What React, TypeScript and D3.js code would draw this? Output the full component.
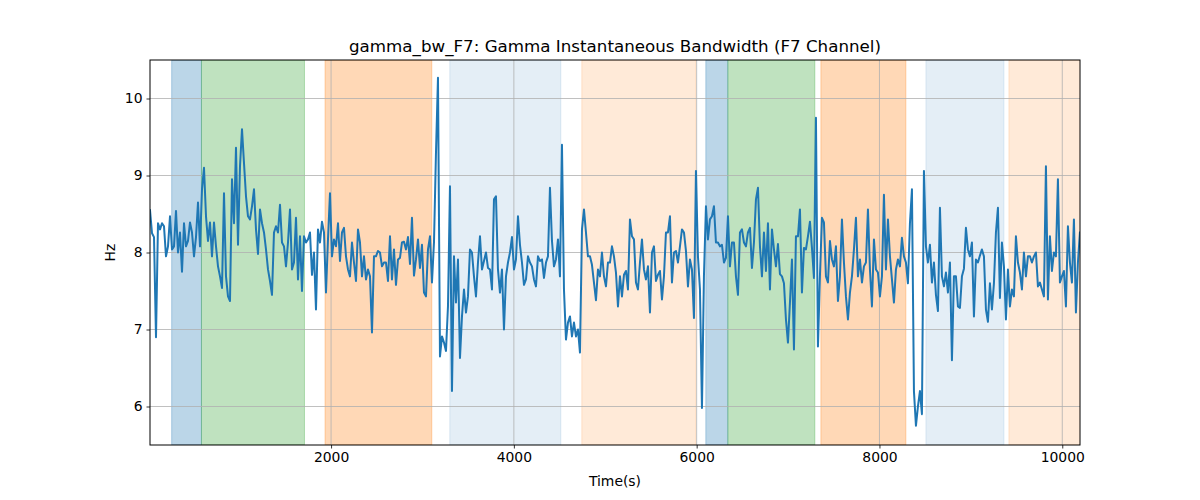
import React, { useEffect, useRef } from 'react';
import * as d3 from 'd3';

const TITLE = 'gamma_bw_F7: Gamma Instantaneous Bandwidth (F7 Channel)';
const X_LABEL = 'Time(s)';
const Y_LABEL = 'Hz';

// sample grid of the recording (seconds)
const T_START = 19;
const T_STEP = 21.88;

// instantaneous bandwidth (Hz) in consecutive chunks
const seg1 = [
  8.55, 8.25, 8.2, 6.9, 8.38, 8.3, 8.38, 8.34, 7.95, 8.08,
  8.47, 8.04, 8.08, 8.54, 8.0, 8.26, 7.75, 8.38, 8.08, 8.15,
  8.39, 8.26, 7.95, 8.2, 8.65, 8.08, 8.82, 9.1, 8.47, 8.15,
  8.39, 7.95, 8.39, 8.08, 7.82, 7.69, 7.54, 8.77, 7.69, 7.43,
  7.37, 8.95, 8.38, 9.36, 8.1, 9.12, 9.6, 9.16, 8.73, 8.47,
  8.43, 8.6, 8.82, 8.3, 7.98, 8.56, 8.38, 8.26, 8.04, 7.78
];
const seg2 = [
  7.63, 7.45, 8.26, 8.34, 8.26, 8.62, 8.13, 8.08, 7.82, 8.13,
  8.56, 7.78, 7.87, 8.45, 7.65, 8.21, 7.5, 8.21, 8.13, 8.17,
  8.26, 7.71, 8.0, 7.26, 8.3, 8.13, 8.4, 8.26, 7.48, 8.17,
  8.77, 7.95, 8.17, 8.08, 8.38, 7.89, 8.26, 8.32, 7.95, 7.78,
  7.69, 8.13, 7.87, 7.63, 8.3, 8.13, 7.69, 7.95, 7.65, 7.78,
  7.69, 6.96, 7.95, 7.95, 8.02, 8.0, 7.82, 7.87, 7.87, 7.63
];
const seg3 = [
  8.21, 7.65, 8.04, 7.58, 7.91, 7.93, 8.13, 8.14, 8.04, 8.2,
  7.85, 8.45, 7.7, 7.91, 8.17, 7.8, 8.1, 7.48, 7.43, 8.04,
  8.21, 7.61, 8.13, 9.3, 10.27, 6.65, 6.91, 6.83, 6.72, 7.3,
  8.86, 6.2, 7.95, 7.35, 7.91, 6.63, 7.17, 7.52, 7.22, 7.43,
  8.04, 8.0, 7.69, 7.43, 7.87, 8.21, 7.78, 7.89, 8.0, 7.8,
  7.78, 7.52, 8.69, 8.73, 7.78, 7.48, 7.78, 7.0, 7.69, 7.87
];
const seg4 = [
  8.0, 8.2, 7.78, 7.91, 8.47, 8.1, 7.87, 7.58, 7.65, 7.95,
  7.87, 7.82, 7.65, 7.56, 7.95, 7.89, 7.91, 7.67, 7.87, 7.95,
  8.84, 8.15, 7.82, 7.91, 8.17, 7.69, 9.4, 7.52, 6.87, 7.09,
  7.17, 6.91, 7.09, 6.91, 7.0, 6.7, 8.3, 8.56, 8.26, 7.95,
  7.95, 7.84, 7.61, 7.38, 7.78, 7.69, 8.0, 7.69, 7.56, 7.87,
  7.87, 8.08, 7.95, 7.74, 7.3, 7.69, 7.43, 7.71, 7.76, 7.52
];
const seg5 = [
  8.43, 8.21, 8.17, 7.61, 7.52, 7.87, 8.17, 7.78, 7.65, 7.82,
  7.22, 8.0, 8.08, 7.63, 7.71, 7.76, 7.39, 7.69, 8.26, 8.26,
  8.47, 7.61, 8.0, 8.02, 7.87, 8.08, 8.3, 8.26, 8.02, 7.56,
  7.91, 7.78, 7.15, 9.06, 7.95, 7.52, 5.98, 7.7, 8.6, 8.17,
  8.43, 8.47, 8.6, 8.13, 8.13, 8.08, 8.1, 7.87, 7.93, 8.47,
  7.82, 8.13, 8.13, 7.69, 7.45, 8.26, 8.3, 8.13, 8.08, 8.26
];
const seg6 = [
  8.32, 7.8, 8.13, 8.69, 8.84, 8.08, 7.69, 8.26, 7.76, 8.38,
  7.52, 8.3, 8.04, 7.82, 8.11, 7.72, 7.69, 7.6, 7.13, 6.83,
  7.35, 7.91, 6.74, 8.21, 8.21, 8.56, 7.48, 8.06, 8.04, 8.21,
  8.4, 8.06, 7.67, 9.75, 6.78, 7.7, 8.45, 8.39, 7.69, 7.61,
  8.15, 7.91, 7.82, 8.08, 7.37, 7.69, 8.43, 7.87, 7.43, 7.13,
  7.48, 7.69, 8.04, 8.45, 7.69, 7.91, 7.61, 7.82, 7.87, 8.56
];
const seg7 = [
  7.78, 7.3, 8.17, 7.78, 7.74, 7.43, 7.69, 8.75, 7.78, 8.43,
  7.95, 7.65, 7.35, 7.78, 7.91, 7.82, 8.19, 7.95, 7.87, 7.6,
  8.38, 8.82, 6.2, 5.75, 6.0, 6.2, 5.9, 9.06, 8.08, 7.87,
  8.1, 7.61, 7.87, 7.45, 7.24, 8.58, 7.69, 7.56, 7.74, 7.48,
  7.87, 6.6, 7.69, 7.69, 7.3, 7.28, 7.69, 7.79, 8.32, 8.04,
  7.95, 8.13, 7.17, 7.91, 7.87, 7.96, 8.04, 7.95, 7.26, 7.1
];
const seg8 = [
  7.6, 7.26, 7.6, 8.26, 8.58, 7.41, 8.13, 7.82, 7.13, 7.78,
  7.3, 7.52, 7.43, 8.21, 7.87, 7.74, 7.52, 8.0, 7.69, 7.95,
  7.95, 7.87, 7.95, 8.0, 7.56, 7.61, 7.52, 7.43, 9.12, 7.39,
  8.21, 7.76, 8.0, 7.95, 8.95, 7.61, 7.69, 7.76, 7.3, 8.34,
  7.87, 7.61, 8.43, 7.22, 7.87, 8.26
];
const values = [...seg1, ...seg2, ...seg3, ...seg4, ...seg5, ...seg6, ...seg7, ...seg8];

// shaded state intervals (start s, end s, colour, alpha)
const spanStarts = [256, 582, 1934, 3299, 4743, 6100, 6341, 7359, 8508, 9416];
const spanEnds = [582, 1709, 3102, 4514, 5991, 6341, 7293, 8289, 9362, 10300];
const spanColors = ['#1f77b4', '#2ca02c', '#ff7f0e', '#1f77b4', '#ff7f0e', '#1f77b4', '#2ca02c', '#ff7f0e', '#1f77b4', '#ff7f0e'];
const spanAlphas = [0.3, 0.3, 0.3, 0.12, 0.16, 0.3, 0.3, 0.3, 0.12, 0.16];

const xTicks = [2000, 4000, 6000, 8000, 10000];
const yTicks = [6, 7, 8, 9, 10];
const X_DOMAIN = [19, 10194];
const Y_DOMAIN = [5.5, 10.5];

const WIDTH = 1200;
const HEIGHT = 500;
const margin = { top: 60, right: 120, bottom: 55, left: 150 };
const FONT = 'DejaVu Sans, sans-serif';

const App: React.FC = () => {
  const svgRef = useRef<SVGSVGElement>(null);

  useEffect(() => {
    if (!svgRef.current) return;
    const svg = d3.select(svgRef.current);
    svg.selectAll('*').remove();

    const innerW = WIDTH - margin.left - margin.right;
    const innerH = HEIGHT - margin.top - margin.bottom;

    const x = d3.scaleLinear().domain(X_DOMAIN).range([0, innerW]);
    const y = d3.scaleLinear().domain(Y_DOMAIN).range([innerH, 0]);

    svg.append('rect').attr('width', WIDTH).attr('height', HEIGHT).attr('fill', '#ffffff');

    const defs = svg.append('defs');
    defs.append('clipPath').attr('id', 'plot-clip')
      .append('rect').attr('width', innerW).attr('height', innerH);

    const g = svg.append('g').attr('transform', `translate(${margin.left},${margin.top})`);
    const plot = g.append('g').attr('clip-path', 'url(#plot-clip)');

    spanStarts.forEach((start, i) => {
      const x0 = x(start);
      const x1 = x(spanEnds[i]);
      plot.append('rect')
        .attr('x', x0)
        .attr('y', 0)
        .attr('width', x1 - x0)
        .attr('height', innerH)
        .attr('fill', spanColors[i])
        .attr('fill-opacity', spanAlphas[i])
        .attr('stroke', spanColors[i])
        .attr('stroke-opacity', spanAlphas[i])
        .attr('stroke-width', 1);
    });

    // grid
    xTicks.forEach(t => {
      plot.append('line')
        .attr('x1', x(t)).attr('x2', x(t))
        .attr('y1', 0).attr('y2', innerH)
        .attr('stroke', '#b0b0b0').attr('stroke-width', 0.8);
    });
    yTicks.forEach(t => {
      plot.append('line')
        .attr('x1', 0).attr('x2', innerW)
        .attr('y1', y(t)).attr('y2', y(t))
        .attr('stroke', '#b0b0b0').attr('stroke-width', 0.8);
    });

    const line = d3.line<number>()
      .x((_, i) => x(T_START + i * T_STEP))
      .y(d => y(d));

    plot.append('path')
      .datum(values)
      .attr('d', line)
      .attr('fill', 'none')
      .attr('stroke', '#1f77b4')
      .attr('stroke-width', 2)
      .attr('stroke-linejoin', 'round')
      .attr('stroke-linecap', 'square');

    // frame
    g.append('rect')
      .attr('width', innerW)
      .attr('height', innerH)
      .attr('fill', 'none')
      .attr('stroke', '#000')
      .attr('stroke-width', 1);

    const xAxis = g.append('g').attr('transform', `translate(0,${innerH})`)
      .call(d3.axisBottom(x).tickValues(xTicks).tickSize(3.5).tickPadding(4).tickFormat(d3.format('d')));
    const yAxis = g.append('g')
      .call(d3.axisLeft(y).tickValues(yTicks).tickSize(3.5).tickPadding(4).tickFormat(d3.format('d')));

    [xAxis, yAxis].forEach(ax => {
      ax.select('.domain').remove();
      ax.selectAll('line').attr('stroke', '#000').attr('stroke-width', 0.8);
      ax.selectAll('text')
        .attr('fill', '#000')
        .style('font-family', FONT)
        .style('font-size', '13.9px');
    });

    svg.append('text')
      .attr('x', margin.left + innerW / 2)
      .attr('y', 52)
      .attr('text-anchor', 'middle')
      .style('font-family', FONT)
      .style('font-size', '16.7px')
      .text(TITLE);

    svg.append('text')
      .attr('x', margin.left + innerW / 2)
      .attr('y', 486)
      .attr('text-anchor', 'middle')
      .style('font-family', FONT)
      .style('font-size', '13.9px')
      .text(X_LABEL);

    svg.append('text')
      .attr('transform', `translate(115,${margin.top + innerH / 2}) rotate(-90)`)
      .attr('text-anchor', 'middle')
      .style('font-family', FONT)
      .style('font-size', '13.9px')
      .text(Y_LABEL);
  }, []);

  return (
    <svg
      ref={svgRef}
      width={WIDTH}
      height={HEIGHT}
      style={{ position: 'absolute', left: 0, top: 0, display: 'block' }}
    />
  );
};

export default App;
